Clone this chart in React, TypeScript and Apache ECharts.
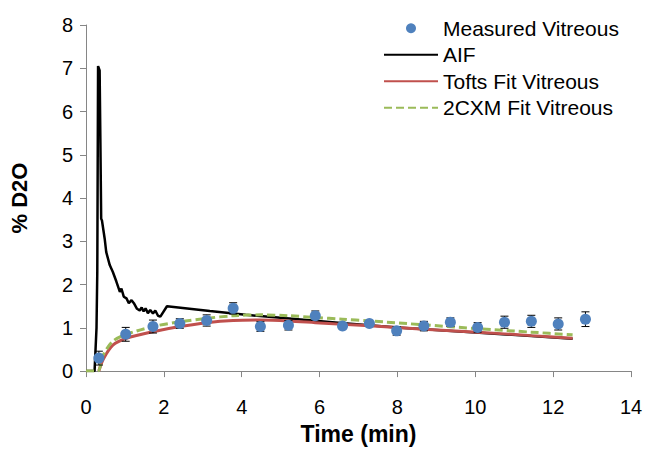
import React, { useEffect, useRef } from "react";
import * as echarts from "echarts";

const measX = [0.33, 1.02, 1.72, 2.41, 3.1, 3.78, 4.48, 5.2, 5.89, 6.59, 7.28, 7.98, 8.68, 9.36, 10.06, 10.75, 11.44, 12.13, 12.83];
const measY = [0.3, 0.85, 1.03, 1.1, 1.17, 1.45, 1.03, 1.06, 1.28, 1.04, 1.1, 0.93, 1.04, 1.13, 1.01, 1.13, 1.15, 1.09, 1.2];
const measErr = [0.16, 0.16, 0.15, 0.11, 0.13, 0.13, 0.11, 0.11, 0.11, 0.05, 0.05, 0.1, 0.11, 0.1, 0.11, 0.14, 0.14, 0.14, 0.17];

const aifX = [0, 0.22, 0.27, 0.29, 0.31, 0.35, 0.37, 0.39, 0.41, 0.48, 0.52, 0.61, 0.69, 0.78, 0.87, 0.91, 0.97, 1.04, 1.1, 1.17, 1.23, 1.31, 1.38, 1.43, 1.48, 1.53, 1.59, 1.65, 1.72, 1.78, 1.85, 1.91, 2.08, 3.18, 4.1, 5.15, 6.55, 8.0, 10.0, 11.44, 12.5];
const aifY = [0, 0, 1.0, 2.3, 7.05, 6.95, 5.27, 3.52, 3.48, 3.06, 2.75, 2.45, 2.29, 2.07, 1.83, 1.91, 1.72, 1.68, 1.57, 1.64, 1.57, 1.44, 1.4, 1.47, 1.38, 1.45, 1.34, 1.41, 1.33, 1.4, 1.28, 1.26, 1.5, 1.39, 1.3, 1.22, 1.11, 1.01, 0.89, 0.81, 0.75];

const toftsX = [0.33, 0.44, 0.69, 1.04, 1.72, 2.41, 3.1, 3.78, 4.48, 5.2, 5.89, 6.59, 7.28, 8.68, 10.06, 11.44, 12.5];
const toftsY = [0, 0.27, 0.6, 0.76, 0.91, 1.03, 1.12, 1.17, 1.18, 1.16, 1.12, 1.08, 1.05, 0.97, 0.9, 0.82, 0.76];

const cxmX = [0, 0.3, 0.44, 0.69, 1.04, 1.72, 2.41, 3.1, 3.78, 4.48, 5.2, 5.89, 6.59, 7.28, 8.68, 10.06, 11.44, 12.5];
const cxmY = [0, 0, 0.37, 0.69, 0.85, 1.03, 1.14, 1.22, 1.28, 1.3, 1.28, 1.24, 1.2, 1.16, 1.07, 0.98, 0.9, 0.84];

const FONT = "'Liberation Sans', Arial, sans-serif";

export default function App() {
  const ref = useRef<HTMLDivElement>(null);
  useEffect(() => {
    document.body.style.margin = "0";
    if (!ref.current) return;
    const chart = echarts.init(ref.current, undefined, { renderer: "svg" });
    const zip = (xs: number[], ys: number[]) => xs.map((x, i) => [x, ys[i]]);
    const errData = measX.map((x, i) => [x, measY[i] - measErr[i], measY[i] + measErr[i]]);
    chart.setOption({
      animation: false,
      backgroundColor: "#fff",
      textStyle: { fontFamily: FONT },
      grid: { left: 86, right: 29, top: 25, bottom: 77 },
      legend: {
        orient: "vertical",
        left: 378,
        top: 10,
        itemWidth: 54,
        itemHeight: 10,
        itemGap: 0,
        textStyle: { fontFamily: FONT, fontSize: 21, color: "#000", lineHeight: 26.5 },
        data: [
          { name: "Measured Vitreous", icon: "circle" },
          { name: "AIF", itemStyle: { opacity: 0 } },
          { name: "Tofts Fit Vitreous", itemStyle: { opacity: 0 } },
          { name: "2CXM Fit Vitreous", itemStyle: { opacity: 0 } },
        ],
      },
      xAxis: {
        type: "value",
        min: 0,
        max: 14,
        interval: 2,
        name: "Time (min)",
        nameLocation: "middle",
        nameGap: 44,
        nameTextStyle: { fontFamily: FONT, fontSize: 23, fontWeight: "bold", color: "#000" },
        axisLine: { lineStyle: { color: "#868686", width: 1 } },
        axisTick: { show: true, length: 6, lineStyle: { color: "#868686" } },
        axisLabel: { fontSize: 20, color: "#000", margin: 26, fontFamily: FONT },
        splitLine: { show: false },
      },
      yAxis: {
        type: "value",
        min: 0,
        max: 8,
        interval: 1,
        name: "% D2O",
        nameLocation: "middle",
        nameGap: 56,
        nameTextStyle: { fontFamily: FONT, fontSize: 22, fontWeight: "bold", color: "#000" },
        axisLine: { show: true, lineStyle: { color: "#868686", width: 1 } },
        axisTick: { show: true, length: 6, lineStyle: { color: "#868686" } },
        axisLabel: { fontSize: 20, color: "#000", margin: 13, fontFamily: FONT },
        splitLine: { show: false },
      },
      series: [
        {
          name: "AIF",
          type: "line",
          data: zip(aifX, aifY),
          showSymbol: false,
          symbol: "none",
          lineStyle: { color: "#000", width: 2.5 },
          itemStyle: { color: "#000" },
          z: 2,
        },
        {
          name: "Tofts Fit Vitreous",
          type: "line",
          data: zip(toftsX, toftsY),
          showSymbol: false,
          symbol: "none",
          smooth: 0.3,
          lineStyle: { color: "#c0504d", width: 3 },
          itemStyle: { color: "#c0504d" },
          z: 3,
        },
        {
          name: "2CXM Fit Vitreous",
          type: "line",
          data: zip(cxmX, cxmY),
          showSymbol: false,
          symbol: "none",
          smooth: 0.3,
          lineStyle: { color: "#9bbb59", width: 3, type: [8, 4] },
          itemStyle: { color: "#9bbb59" },
          z: 4,
        },
        {
          name: "errors",
          type: "custom",
          data: errData,
          encode: { x: 0, y: [1, 2] },
          z: 5,
          renderItem: (params: any, api: any) => {
            const x = api.value(0);
            const pLo = api.coord([x, api.value(1)]);
            const pHi = api.coord([x, api.value(2)]);
            const hw = 4;
            const style = { stroke: "#000", lineWidth: 1 };
            return {
              type: "group",
              children: [
                { type: "line", shape: { x1: pLo[0], y1: pLo[1], x2: pHi[0], y2: pHi[1] }, style },
                { type: "line", shape: { x1: pLo[0] - hw, y1: pLo[1], x2: pLo[0] + hw, y2: pLo[1] }, style },
                { type: "line", shape: { x1: pHi[0] - hw, y1: pHi[1], x2: pHi[0] + hw, y2: pHi[1] }, style },
              ],
            };
          },
        },
        {
          name: "Measured Vitreous",
          type: "scatter",
          data: zip(measX, measY),
          symbol: "circle",
          symbolSize: 11,
          itemStyle: { color: "#4f81bd", opacity: 1 },
          z: 6,
        },
      ],
    });
    return () => chart.dispose();
  }, []);
  return <div ref={ref} style={{ width: 660, height: 450 }} />;
}
